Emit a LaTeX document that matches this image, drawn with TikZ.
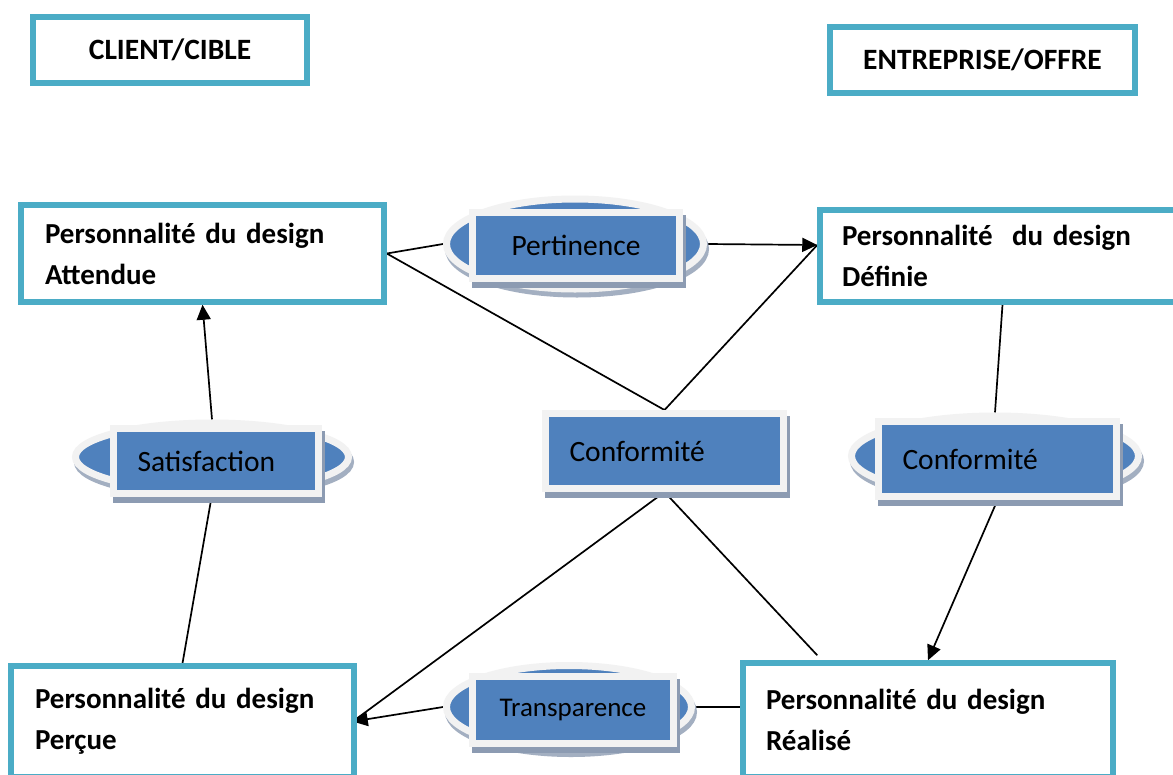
\documentclass[tikz,border=0pt]{standalone}
\usepackage{fontspec}
\setmainfont{Carlito}
\usetikzlibrary{arrows.meta, positioning, shapes.geometric, shadows, backgrounds, calc}
\definecolor{boxteal}{RGB}{75,172,198}
\definecolor{tagblue}{RGB}{79,129,189}
\definecolor{tagframe}{RGB}{242,242,242}
\definecolor{tagshadow}{RGB}{140,155,178}

\begin{document}
\begin{tikzpicture}[
  x=1pt, y=-1pt,
  bigbox/.style={draw=boxteal, line width=5.5pt, fill=white, inner xsep=0pt, align=left,
    font=\fontsize{29}{41}\selectfont\bfseries},
  headbox/.style={draw=boxteal, line width=5.5pt, fill=white, font=\fontsize{29.5}{32}\selectfont\bfseries},
  oval/.style={ellipse, draw=tagframe, line width=7pt, fill=tagblue,
    drop shadow={shadow xshift=2pt, shadow yshift=-5pt, fill=tagshadow!80, draw=tagshadow!80, line width=7pt, opacity=1}},
  tag/.style={draw=tagframe, line width=7pt, fill=tagblue, font=\fontsize{29.5}{32}\selectfont,
    drop shadow={shadow xshift=3pt, shadow yshift=-6pt, fill=tagshadow, draw=tagshadow, line width=7pt, opacity=1}},
  lefttag/.style={tag, align=left, inner xsep=24pt},
  link/.style={line width=1.7pt},
  arr/.style={link, -{Triangle[length=15pt, width=14pt]}}
]
  \useasboundingbox (0,0) rectangle (1173,774);

  % Headers
  \node[headbox, minimum width=274pt, minimum height=66pt] (client) at (170,50) {CLIENT/CIBLE};
  \node[headbox, minimum width=305pt, minimum height=66pt] (entreprise) at (982.5,60) {ENTREPRISE/OFFRE};

  % Design boxes
  \node[bigbox, minimum width=363pt, minimum height=97pt, text width=315pt] (attendue) at (202.5,253.5)
    {Personnalité du design\\Attendue};
  \node[bigbox, minimum width=365pt, minimum height=92pt, text width=321pt] (definie) at (1002.5,256)
    {Personnalité\ \ du design\\Définie};
  \node[bigbox, minimum width=343pt, minimum height=111pt, text width=295pt] (percue) at (182.5,721.5)
    {Personnalité du design\\Perçue};
  \node[bigbox, minimum width=370pt, minimum height=114pt, text width=324pt] (realise) at (928,720)
    {Personnalité du design\\Réalisé};

  % Ovals and tags
  \node[oval, minimum width=257pt, minimum height=90pt] (pertell) at (575,244) {};
  \node[tag, minimum width=207pt, minimum height=66pt] (pert) at (576,245.5) {Pertinence};

  \node[oval, minimum width=273pt, minimum height=68pt] (satell) at (212,457) {};
  \node[lefttag, text width=157pt, minimum height=65pt] (sat) at (216,461) {Satisfaction};

  \node[lefttag, text width=190pt, minimum height=75pt] (conf) at (664.5,451) {Conformité};

  \node[oval, minimum width=287pt, minimum height=80pt] (confrell) at (995,456) {};
  \node[lefttag, text width=190pt, minimum height=75pt] (confr) at (997.5,459) {Conformité};

  \node[oval, minimum width=245pt, minimum height=83pt] (transell) at (569,707) {};
  \node[tag, minimum width=201pt, minimum height=67pt, font=\fontsize{27}{30}\selectfont] (trans) at (573,710) {Transparence};

  % Free ends
  \coordinate (defin) at ([yshift=11pt]definie.west);
  \coordinate (pertip) at ([xshift=-4pt]percue.east);
  \coordinate (realnw) at ([xshift=77pt, yshift=5pt]realise.north west);

  % Connectors
  \begin{scope}[on background layer]
    \fill[white] (0,0) rectangle (1173,774);
    \draw[link] (attendue.east) -- (pertell.west);
    \draw[link] (attendue.east) -- (conf.north) -- (defin);
    \draw[arr] (pertell.east) -- (defin);
    \draw[link] (definie.south) -- (confrell.north);
    \draw[arr] (confr.south) -- (realise.north);
    \draw[link] (conf.south) -- (realnw);
    \draw[link] (conf.south) -- (pertip);
    \draw[arr] (transell.west) -- (pertip);
    \draw[link] (transell.east) -- (transell.east -| realise.west);
    \draw[arr] (satell.north) -- (attendue.south);
    \draw[link] (satell.south) -- (percue.north);
  \end{scope}
\end{tikzpicture}
\end{document}
